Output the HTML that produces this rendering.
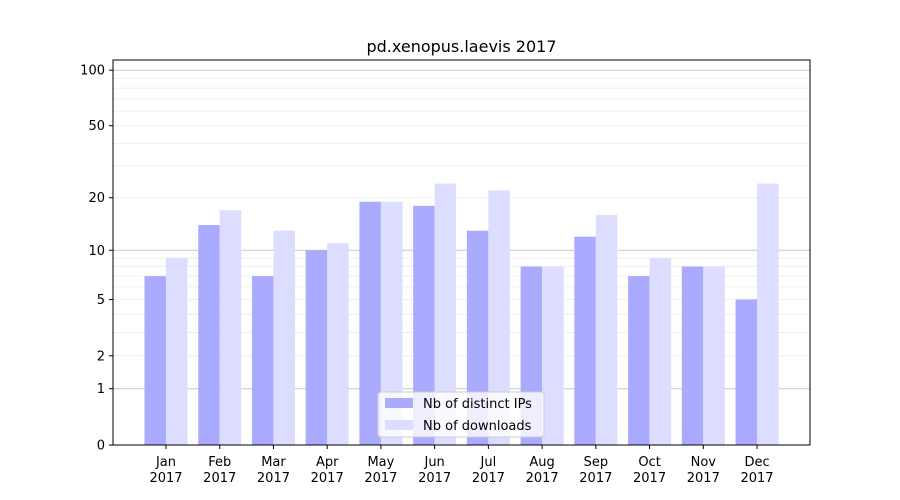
<!DOCTYPE html>
<html><head><meta charset="utf-8"><style>body{margin:0;background:#fff}svg{display:block}text{font-family:"DejaVu Sans","Liberation Sans",sans-serif;font-size:13px;fill:#000}</style></head>
<body>
<svg width="900" height="500" xmlns="http://www.w3.org/2000/svg" id="s">
<rect width="900" height="500" fill="#fff"/>
<g id="grid"></g>
<g id="bars"></g>
<rect x="113" y="60" width="697" height="385" fill="none" stroke="#000" stroke-width="1"/>
<g id="ticks"></g>
<text x="461.5" y="52" text-anchor="middle" style="font-size:16px">pd.xenopus.laevis 2017</text>
<g>
<rect x="378" y="392" width="166" height="45" rx="3" fill="#fff" fill-opacity="0.8" stroke="#ccc"/>
<rect x="385" y="398" width="28" height="10" fill="#aaaaff"/>
<text x="423" y="408">Nb of distinct IPs</text>
<rect x="385" y="420" width="28" height="10" fill="#ddddff"/>
<text x="423" y="430">Nb of downloads</text>
</g>
</svg>
<script>
const NS="http://www.w3.org/2000/svg";
const Y=v=>445-187*Math.log10(v+1);
function el(p,t,a,txt){const e=document.createElementNS(NS,t);for(const k in a)e.setAttribute(k,a[k]);if(txt!==undefined)e.textContent=txt;document.getElementById(p).appendChild(e);return e;}
[2,3,4,5,6,7,8,9,20,30,40,50,60,70,80,90].forEach(v=>{const y=Y(v);el("grid","line",{x1:113,x2:810,y1:y,y2:y,stroke:"#ebebeb","stroke-width":0.8});});
[1,10,100].forEach(v=>{const y=Y(v);el("grid","line",{x1:113,x2:810,y1:y,y2:y,stroke:"#c8c8c8","stroke-width":1});});
const ip=[7,14,7,10,19,18,13,8,12,7,8,5],dl=[9,17,13,11,19,24,22,8,16,9,8,24];
const m=["Jan","Feb","Mar","Apr","May","Jun","Jul","Aug","Sep","Oct","Nov","Dec"];
for(let i=0;i<12;i++){const x=166+53.73*i;
el("bars","rect",{x:x-21.5,y:Y(ip[i]),width:21.5,height:445-Y(ip[i]),fill:"#aaaaff"});
el("bars","rect",{x:x,y:Y(dl[i]),width:21.5,height:445-Y(dl[i]),fill:"#ddddff"});
el("ticks","line",{x1:x,x2:x,y1:445,y2:449,stroke:"#000"});
el("ticks","text",{x:x,y:466,"text-anchor":"middle"},m[i]);
el("ticks","text",{x:x,y:482,"text-anchor":"middle"},"2017");}
[[0,"0"],[1,"1"],[2,"2"],[5,"5"],[10,"10"],[20,"20"],[50,"50"],[100,"100"]].forEach(([v,t])=>{const y=Y(v);
el("ticks","line",{x1:109,x2:113,y1:y,y2:y,stroke:"#000"});
el("ticks","text",{x:105,y:y+4.5,"text-anchor":"end"},t);});
</script>
</body></html>
